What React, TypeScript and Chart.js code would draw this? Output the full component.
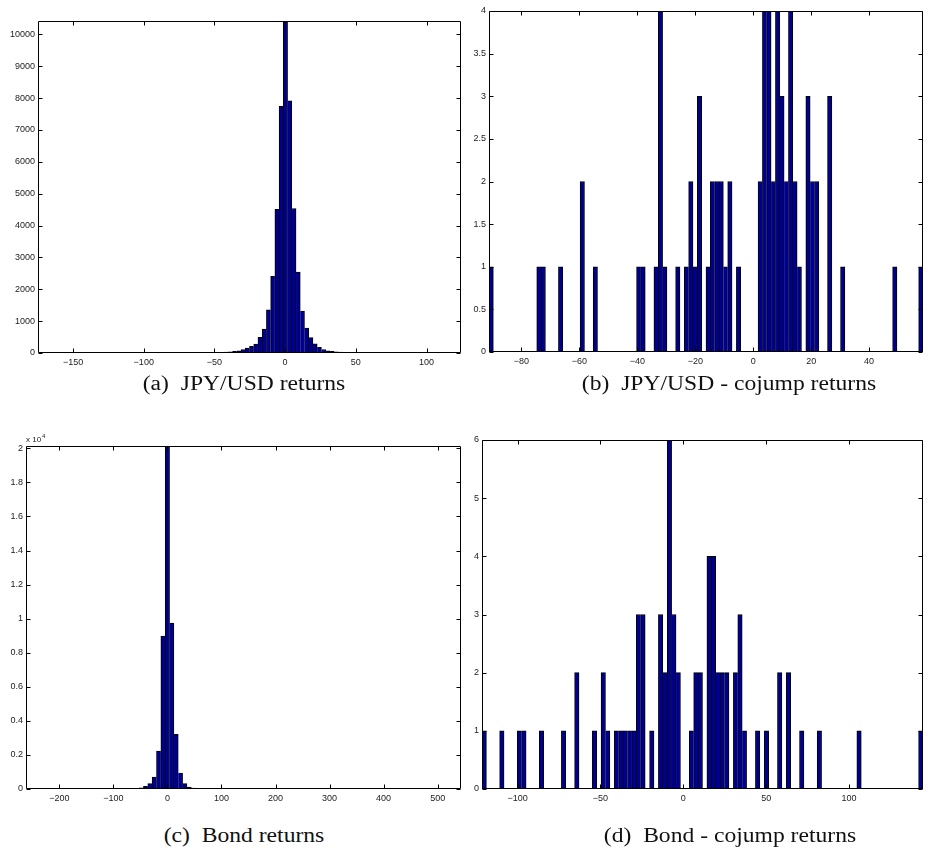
import React, { useEffect, useRef } from "react";
import { Chart, registerables } from "chart.js";
Chart.register(...registerables);

// ---------- Panel (a): JPY/USD returns ----------
const A_RANGE = [-174.8, 124.4];
const A_COUNTS = [
  1, 0, 0, 1, 0, 0, 0, 0, 0, 1,
  0, 0, 0, 1, 0, 0, 1, 0, 0, 1,
  0, 1, 0, 1, 1, 0, 1, 1, 2, 1,
  2, 1, 3, 2, 3, 4, 3, 5, 6, 7,
  9, 12, 16, 20, 26, 36, 50, 72, 110, 152,
  210, 282, 491, 752, 1358, 2403, 4504, 7743, 10417, 7910,
  4535, 2539, 1317, 784, 480, 290, 180, 110, 68, 50,
  36, 26, 19, 14, 11, 8, 6, 5, 4, 3,
  3, 2, 2, 1, 2, 1, 1, 0, 1, 1,
  0, 1, 0, 0, 1, 0, 0, 0, 0, 1,
];
const A_YMAX = 10417;
const A_XTICKS = [-150, -100, -50, 0, 50, 100];
const A_YTICKS = [0, 1000, 2000, 3000, 4000, 5000, 6000, 7000, 8000, 9000, 10000];

// ---------- Panel (b): JPY/USD - cojump returns ----------
const B_RANGE = [-91.2, 58.6];
const B_COUNTS = [
  1, 0, 0, 0, 0, 0, 0, 0, 0, 0,
  0, 1, 1, 0, 0, 0, 1, 0, 0, 0,
  0, 2, 0, 0, 1, 0, 0, 0, 0, 0,
  0, 0, 0, 0, 1, 1, 0, 0, 1, 4,
  1, 0, 0, 1, 0, 1, 2, 1, 3, 0,
  1, 2, 2, 2, 1, 2, 0, 1, 0, 0,
  0, 0, 2, 4, 4, 2, 4, 3, 2, 4,
  2, 1, 0, 3, 2, 2, 0, 0, 3, 0,
  0, 1, 0, 0, 0, 0, 0, 0, 0, 0,
  0, 0, 0, 1, 0, 0, 0, 0, 0, 1,
];
const B_YMAX = 4;
const B_XTICKS = [-80, -60, -40, -20, 0, 20, 40];
const B_YTICKS = [0, 0.5, 1, 1.5, 2, 2.5, 3, 3.5, 4];

// ---------- Panel (c): Bond returns ----------
const C_RANGE = [-261.7, 543.2];
const C_COUNTS = [
  1, 0, 0, 0, 0, 1, 0, 0, 0, 1,
  0, 0, 1, 0, 1, 0, 1, 1, 2, 2,
  3, 5, 8, 14, 25, 38, 62, 157, 313, 705,
  2233, 8972, 20137, 9736, 3213, 940, 313, 118, 50, 24,
  12, 7, 4, 3, 2, 1, 1, 1, 0, 1,
  0, 1, 0, 0, 0, 1, 0, 0, 0, 0,
  1, 0, 0, 0, 0, 0, 0, 1, 0, 0,
  0, 0, 0, 0, 0, 1, 0, 0, 0, 0,
  0, 0, 0, 0, 0, 0, 0, 0, 0, 0,
  0, 0, 0, 0, 0, 0, 0, 0, 0, 1,
];
const C_YMAX = 20137;
const C_XTICKS = [-200, -100, 0, 100, 200, 300, 400, 500];
const C_YTICKS = [0, 2000, 4000, 6000, 8000, 10000, 12000, 14000, 16000, 18000, 20000];
const C_YSCALE = 10000;

// ---------- Panel (d): Bond - cojump returns ----------
const D_RANGE = [-121.5, 144.6];
const D_COUNTS = [
  1, 0, 0, 0, 1, 0, 0, 0, 1, 1,
  0, 0, 0, 1, 0, 0, 0, 0, 1, 0,
  0, 2, 0, 0, 0, 1, 0, 2, 1, 0,
  1, 1, 1, 1, 1, 3, 3, 0, 1, 0,
  3, 2, 6, 3, 2, 0, 0, 1, 2, 2,
  0, 4, 4, 2, 2, 2, 0, 2, 3, 1,
  0, 0, 1, 0, 1, 0, 0, 2, 0, 2,
  0, 0, 1, 0, 0, 0, 1, 0, 0, 0,
  0, 0, 0, 0, 0, 1, 0, 0, 0, 0,
  0, 0, 0, 0, 0, 0, 0, 0, 0, 1,
];
const D_YMAX = 6;
const D_XTICKS = [-100, -50, 0, 50, 100];
const D_YTICKS = [0, 1, 2, 3, 4, 5, 6];

const CAPTIONS = [
  "(a)  JPY/USD returns",
  "(b)  JPY/USD - cojump returns",
  "(c)  Bond returns",
  "(d)  Bond - cojump returns",
];

const BAR_FILL = "#00008F";
const TICK_FONT = { family: "'Liberation Sans', Arial, sans-serif", size: 9 };
const TEXT_COLOR = "#222";

const fmt = (v: number) => String(v).replace("-", "\u2212");

type PanelProps = {
  counts: number[];
  range: number[];
  ymax: number;
  xticks: number[];
  yticks: number[];
  yscale?: number;
  box: { x: number; y: number; w: number; h: number };
  plot: { l: number; t: number; r: number; b: number };
};

function Panel(p: PanelProps) {
  const ref = useRef<HTMLCanvasElement>(null);
  useEffect(() => {
    const n = p.counts.length;
    const bw = (p.range[1] - p.range[0]) / n;
    const pts = p.counts.map((c, i) => ({ x: p.range[0] + (i + 0.5) * bw, y: c }));
    const yW = p.plot.l - p.box.x;
    const xH = p.box.y + p.box.h - p.plot.b;
    const padTop = p.plot.t - p.box.y;
    const padRight = p.box.x + p.box.w - p.plot.r;

    const frame = {
      id: "frame",
      afterDatasetsDraw(chart: any) {
        const { ctx, chartArea: a } = chart;
        const xs = chart.scales.x;
        const ys = chart.scales.y;
        ctx.save();
        ctx.strokeStyle = "#000";
        ctx.lineWidth = 1;
        ctx.beginPath();
        const L = Math.round(a.left) + 0.5;
        const R = Math.round(a.right) - 0.5;
        const T = Math.round(a.top) + 0.5;
        const B = Math.round(a.bottom) - 0.5;
        ctx.rect(L, T, R - L, B - T);
        const tl = 4;
        xs.ticks.forEach((t: any) => {
          const px = Math.round(xs.getPixelForValue(t.value)) + 0.5;
          ctx.moveTo(px, B);
          ctx.lineTo(px, B - tl);
          ctx.moveTo(px, T);
          ctx.lineTo(px, T + tl);
        });
        ys.ticks.forEach((t: any) => {
          const py = Math.round(ys.getPixelForValue(t.value)) + 0.5;
          ctx.moveTo(L, py);
          ctx.lineTo(L + tl, py);
          ctx.moveTo(R, py);
          ctx.lineTo(R - tl, py);
        });
        ctx.stroke();
        if (p.yscale) {
          ctx.fillStyle = TEXT_COLOR;
          ctx.textBaseline = "alphabetic";
          ctx.textAlign = "left";
          ctx.font = "8px 'Liberation Sans', Arial, sans-serif";
          ctx.fillText("x 10", a.left, a.top - 4);
          const w = ctx.measureText("x 10").width;
          ctx.font = "6px 'Liberation Sans', Arial, sans-serif";
          ctx.fillText(String(Math.round(Math.log10(p.yscale))), a.left + w + 1, a.top - 8);
        }
        ctx.restore();
      },
    };

    const chart = new Chart(ref.current as HTMLCanvasElement, {
      type: "bar",
      data: {
        datasets: [
          {
            data: pts as any,
            backgroundColor: BAR_FILL,
            borderColor: "#000",
            borderWidth: (ctx: any) => {
              const i = ctx.dataIndex;
              const c = p.counts[i];
              const pr = i > 0 ? p.counts[i - 1] : 0;
              const nx = i < n - 1 ? p.counts[i + 1] : 0;
              return { top: 1, bottom: 0, left: pr <= c ? 1 : 0, right: nx < c ? 1 : 0 };
            },
            borderSkipped: "start",
            barPercentage: 1,
            categoryPercentage: 1,
          } as any,
        ],
      },
      options: {
        responsive: false,
        animation: false,
        devicePixelRatio: 1,
        layout: { padding: { left: 0, top: padTop, right: padRight, bottom: 0 } },
        plugins: { legend: { display: false }, tooltip: { enabled: false } },
        scales: {
          x: {
            type: "linear",
            min: p.range[0],
            max: p.range[1],
            offset: false,
            grid: { display: false, drawTicks: false },
            border: { display: false },
            ticks: {
              font: TICK_FONT,
              color: TEXT_COLOR,
              padding: 4,
              maxRotation: 0,
              autoSkip: false,
              callback: (v: any) => fmt(Number(v)),
            },
            afterBuildTicks: (s: any) => {
              s.ticks = p.xticks.map((v) => ({ value: v }));
            },
            afterFit: (s: any) => {
              s.height = xH;
              s.paddingLeft = 0;
              s.paddingRight = 0;
            },
          },
          y: {
            type: "linear",
            min: 0,
            max: p.ymax,
            grid: { display: false, drawTicks: false },
            border: { display: false },
            ticks: {
              font: TICK_FONT,
              color: TEXT_COLOR,
              padding: 3,
              autoSkip: false,
              callback: (v: any) => fmt(p.yscale ? Number(v) / p.yscale : Number(v)),
            },
            afterBuildTicks: (s: any) => {
              s.ticks = p.yticks.map((v) => ({ value: v }));
            },
            afterFit: (s: any) => {
              s.width = yW;
              s.paddingTop = 0;
              s.paddingBottom = 0;
            },
          },
        },
      } as any,
      plugins: [frame],
    });
    return () => chart.destroy();
  }, []);
  return (
    <canvas
      ref={ref}
      width={p.box.w}
      height={p.box.h}
      style={{ position: "absolute", left: p.box.x, top: p.box.y, width: p.box.w, height: p.box.h }}
    />
  );
}

function Caption({ text, cx, cy }: { text: string; cx: number; cy: number }) {
  return (
    <div
      style={{
        position: "absolute",
        left: cx - 200,
        top: cy - 13,
        width: 400,
        height: 26,
        lineHeight: "26px",
        textAlign: "center",
        fontFamily: "'Liberation Serif', 'Times New Roman', serif",
        fontSize: 20,
        color: "#111",
        whiteSpace: "pre",
        transform: "scaleX(1.18)",
      }}
    >
      {text}
    </div>
  );
}

export default function App() {
  return (
    <div style={{ position: "absolute", left: 0, top: 0, width: 928, height: 854, background: "#fff", overflow: "hidden" }}>
      <Panel
        counts={A_COUNTS}
        range={A_RANGE}
        ymax={A_YMAX}
        xticks={A_XTICKS}
        yticks={A_YTICKS}
        box={{ x: 0, y: 0, w: 470, h: 372 }}
        plot={{ l: 38, t: 21, r: 461, b: 353 }}
      />
      <Panel
        counts={B_COUNTS}
        range={B_RANGE}
        ymax={B_YMAX}
        xticks={B_XTICKS}
        yticks={B_YTICKS}
        box={{ x: 462, y: 0, w: 466, h: 372 }}
        plot={{ l: 489, t: 11, r: 923, b: 352 }}
      />
      <Panel
        counts={C_COUNTS}
        range={C_RANGE}
        ymax={C_YMAX}
        xticks={C_XTICKS}
        yticks={C_YTICKS}
        yscale={C_YSCALE}
        box={{ x: 0, y: 420, w: 470, h: 390 }}
        plot={{ l: 26, t: 446, r: 461, b: 789 }}
      />
      <Panel
        counts={D_COUNTS}
        range={D_RANGE}
        ymax={D_YMAX}
        xticks={D_XTICKS}
        yticks={D_YTICKS}
        box={{ x: 462, y: 420, w: 466, h: 390 }}
        plot={{ l: 482, t: 440, r: 923, b: 789 }}
      />
      <Caption text={CAPTIONS[0]} cx={244} cy={383} />
      <Caption text={CAPTIONS[1]} cx={729} cy={383} />
      <Caption text={CAPTIONS[2]} cx={244} cy={835} />
      <Caption text={CAPTIONS[3]} cx={730} cy={835} />
    </div>
  );
}
